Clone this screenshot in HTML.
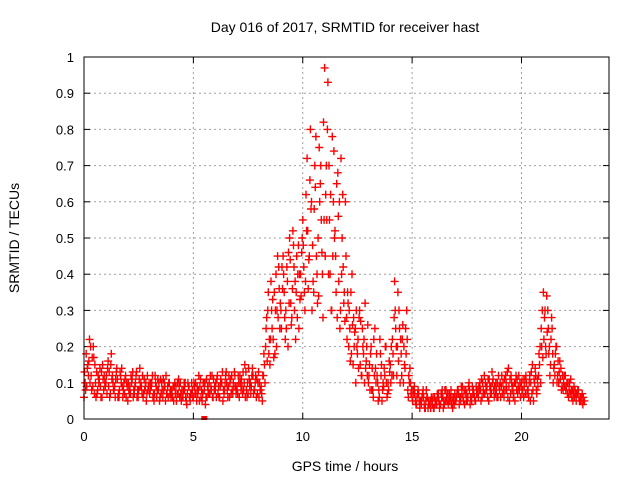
<!DOCTYPE html>
<html><head><meta charset="utf-8"><style>
body{margin:0;background:#fff}
svg{display:block;font-family:"Liberation Sans",sans-serif}
</style></head><body>
<svg id="chart" width="640" height="480" viewBox="0 0 640 480">
<text x="345" y="32" font-size="14" text-anchor="middle">Day 016 of 2017, SRMTID for receiver hast</text>
<text transform="translate(19,238) rotate(-90)" font-size="14" text-anchor="middle">SRMTID / TECUs</text>
<text x="345" y="471" font-size="14" text-anchor="middle">GPS time / hours</text>
<g id="grid"></g><g id="ticks"></g><g id="marks"></g>
<rect x="84" y="57" width="525" height="362" fill="none" stroke="#000" stroke-width="1"/>
</svg>
<script>
const xTicks=[0,5,10,15,20];
const yTicks=[0,0.1,0.2,0.3,0.4,0.5,0.6,0.7,0.8,0.9,1];
const yTickLabels=["0","0.1","0.2","0.3","0.4","0.5","0.6","0.7","0.8","0.9","1"];
const seriesA=[0.06,0.18,0.12,0.2,0.09,0.15,0.07,0.11,0.13,0.08,
0.1,0.16,0.07,0.12,0.09,0.14,0.06,0.1,0.08,0.12,
0.05,0.09,0.11,0.07,0.13,0.08,0.1,0.06,0.09,0.12,
0.07,0.1,0.05,0.09,0.08,0.11,0.06,0.09,0.07,0.1,
0.08,0.05,0.09,0.07,0.1,0.06,0.08,0.04,0.09,0.07,
0.06,0.1,0.07,0.09,0.05,0.08,0.11,0.07,0.09,0.06,
0.08,0.12,0.06,0.1,0.07,0.13,0.09,0.11,0.07,0.12,
0.09,0.06,0.11,0.08,0.13,0.07,0.1,0.14,0.08,0.11,
0.06,0.09,0.12,0.2,0.3,0.15,0.25,0.35,0.2,0.42,
0.3,0.45,0.22,0.38,0.5,0.28,0.42,0.35,0.48,0.4,
0.55,0.3,0.72,0.45,0.6,0.35,0.78,0.5,0.65,0.4,
0.97,0.55,0.7,0.3,0.6,0.45,0.68,0.25,0.5,0.35,
0.28,0.2,0.35,0.15,0.25,0.18,0.3,0.12,0.22,0.16,
0.1,0.18,0.08,0.25,0.12,0.06,0.15,0.09,0.2,0.1,
0.15,0.22,0.38,0.12,0.3,0.18,0.1,0.25,0.08,0.14,
0.06,0.09,0.04,0.07,0.05,0.08,0.03,0.06,0.04,0.05,
0.03,0.05,0.07,0.04,0.06,0.08,0.05,0.07,0.04,0.06,
0.05,0.08,0.06,0.09,0.04,0.07,0.1,0.06,0.08,0.05,
0.07,0.1,0.06,0.12,0.08,0.05,0.09,0.11,0.07,0.1,
0.08,0.12,0.06,0.1,0.14,0.07,0.09,0.05,0.11,0.08,
0.1,0.06,0.12,0.08,0.05,0.15,0.1,0.07,0.18,0.25,
0.35,0.2,0.3,0.12,0.25,0.15,0.2,0.1,0.14,0.08,
0.12,0.07,0.1,0.06,0.09,0.05,0.08,0.06,0.04];
const seriesB=[0.1,0.14,0.22,0.08,0.17,0.06,0.12,0.09,0.15,0.1,
0.07,0.13,0.18,0.08,0.11,0.06,0.13,0.09,0.07,0.1,
0.08,0.12,0.06,0.1,0.08,0.14,0.07,0.11,0.05,0.09,
0.1,0.06,0.12,0.08,0.05,0.1,0.08,0.12,0.06,0.08,
0.06,0.1,0.07,0.09,0.05,0.08,0.06,0.1,0.05,0.08,
0.09,0.05,0.12,0.06,0.1,0.04,0.09,0.07,0.12,0.08,
0.06,0.09,0.11,0.05,0.1,0.08,0.06,0.12,0.09,0.07,
0.12,0.1,0.07,0.15,0.06,0.11,0.09,0.07,0.12,0.1,
0.08,0.05,0.15,0.28,0.18,0.38,0.22,0.3,0.45,0.25,
0.42,0.35,0.25,0.46,0.32,0.52,0.38,0.28,0.4,0.46,
0.42,0.62,0.36,0.8,0.48,0.7,0.4,0.75,0.55,0.82,
0.62,0.93,0.4,0.78,0.5,0.65,0.38,0.72,0.42,0.6,
0.35,0.25,0.4,0.2,0.3,0.14,0.27,0.2,0.32,0.12,
0.15,0.08,0.22,0.1,0.05,0.18,0.08,0.12,0.06,0.16,
0.2,0.12,0.25,0.35,0.1,0.22,0.15,0.3,0.12,0.07,
0.08,0.05,0.07,0.03,0.06,0.04,0.08,0.05,0.03,0.06,
0.04,0.07,0.03,0.06,0.05,0.08,0.04,0.06,0.03,0.07,
0.07,0.04,0.09,0.05,0.08,0.06,0.04,0.09,0.06,0.07,
0.09,0.05,0.08,0.1,0.06,0.09,0.13,0.06,0.08,0.12,
0.06,0.1,0.08,0.13,0.05,0.1,0.07,0.12,0.09,0.06,
0.08,0.11,0.07,0.1,0.13,0.05,0.12,0.09,0.2,0.3,
0.28,0.34,0.18,0.22,0.1,0.18,0.12,0.16,0.09,0.12,
0.09,0.06,0.11,0.05,0.08,0.07,0.05,0.06,0.05];
const seriesC=[0.13,0.09,0.16,0.12,0.2,0.1,0.08,0.14,0.06,0.12,
0.12,0.09,0.15,0.1,0.06,0.11,0.08,0.14,0.1,0.06,
0.1,0.07,0.13,0.09,0.06,0.11,0.09,0.07,0.1,0.08,
0.08,0.12,0.07,0.06,0.1,0.07,0.11,0.05,0.09,0.07,
0.07,0.09,0.05,0.11,0.07,0.06,0.1,0.07,0.06,0.1,
0.1,0.07,0.08,0.11,0.07,0.1,0.06,0.1,0.08,0.11,
0.1,0.07,0.09,0.13,0.08,0.1,0.12,0.07,0.1,0.09,
0.07,0.12,0.09,0.1,0.08,0.14,0.07,0.12,0.1,0.07,
0.1,0.07,0.18,0.25,0.35,0.22,0.33,0.18,0.3,0.36,
0.25,0.4,0.3,0.2,0.44,0.36,0.3,0.45,0.25,0.34,
0.48,0.38,0.52,0.66,0.3,0.58,0.45,0.34,0.7,0.28,
0.45,0.8,0.55,0.3,0.74,0.35,0.56,0.3,0.62,0.27,
0.22,0.3,0.18,0.28,0.1,0.22,0.15,0.25,0.1,0.2,
0.12,0.2,0.06,0.14,0.1,0.22,0.05,0.14,0.1,0.08,
0.1,0.18,0.3,0.2,0.25,0.12,0.2,0.18,0.06,0.1,
0.05,0.07,0.06,0.05,0.04,0.06,0.05,0.03,0.05,0.04,
0.06,0.04,0.05,0.07,0.03,0.05,0.07,0.05,0.06,0.04,
0.06,0.07,0.05,0.06,0.07,0.05,0.08,0.05,0.07,0.09,
0.06,0.08,0.1,0.07,0.09,0.11,0.07,0.08,0.1,0.06,
0.1,0.07,0.11,0.08,0.09,0.12,0.06,0.1,0.07,0.1,
0.07,0.09,0.1,0.06,0.1,0.08,0.14,0.11,0.15,0.2,
0.22,0.18,0.25,0.15,0.18,0.12,0.1,0.13,0.08,0.1,
0.08,0.1,0.07,0.08,0.06,0.07,0.06,0.05,0.06];
const seriesD=[0.08,0.15,0.1,0.17,0.07,0.13,0.1,0.06,0.11,0.09,
0.14,0.06,0.11,0.08,0.13,0.07,0.12,0.06,0.11,0.09,
0.07,0.1,0.08,0.12,0.06,0.09,0.12,0.08,0.07,0.1,
0.09,0.07,0.1,0.11,0.06,0.08,0.1,0.07,0.1,0.06,
0.09,0.07,0.1,0.06,0.08,0.1,0.05,0.09,0.07,0.06,
0.07,0.09,0.05,0.08,0.1,0.06,0.08,0.12,0.06,0.09,
0.11,0.06,0.1,0.08,0.12,0.06,0.1,0.08,0.13,0.08,
0.1,0.08,0.13,0.06,0.1,0.09,0.12,0.08,0.06,0.13,
0.08,0.12,0.1,0.16,0.22,0.3,0.17,0.4,0.28,0.32,
0.36,0.28,0.42,0.32,0.26,0.48,0.22,0.4,0.33,0.5,
0.35,0.52,0.44,0.58,0.38,0.64,0.32,0.6,0.46,0.55,
0.7,0.4,0.62,0.45,0.52,0.28,0.6,0.4,0.32,0.45,
0.32,0.16,0.26,0.24,0.2,0.28,0.12,0.18,0.14,0.26,
0.08,0.14,0.12,0.18,0.08,0.12,0.1,0.2,0.07,0.13,
0.12,0.28,0.2,0.16,0.22,0.26,0.14,0.22,0.1,0.08,
0.07,0.04,0.08,0.05,0.07,0.03,0.06,0.04,0.06,0.03,
0.05,0.06,0.04,0.08,0.04,0.06,0.05,0.08,0.05,0.05,
0.08,0.06,0.07,0.08,0.05,0.09,0.06,0.07,0.05,0.08,
0.08,0.11,0.07,0.09,0.11,0.07,0.1,0.09,0.06,0.09,
0.09,0.08,0.12,0.06,0.11,0.08,0.1,0.08,0.12,0.09,
0.11,0.07,0.08,0.12,0.07,0.11,0.08,0.12,0.1,0.17,
0.3,0.24,0.2,0.28,0.14,0.2,0.16,0.11,0.12,0.09,
0.1,0.08,0.08,0.07,0.07,0.08,0.05,0.07,0.05];
const seriesOffsets=[0,0.05,0.025,0.075];
const NS="http://www.w3.org/2000/svg";
const X0=84,X1=609,Y0=419,Y1=57,XMAX=24;
function xs(t){return X0+(X1-X0)*t/XMAX;}
function ys(v){return Y0-(Y0-Y1)*v;}
function mk(tag,attrs,parent){const e=document.createElementNS(NS,tag);for(const k in attrs)e.setAttribute(k,attrs[k]);parent.appendChild(e);return e;}
const grid=document.getElementById('grid'),ticks=document.getElementById('ticks'),marks=document.getElementById('marks');
yTicks.forEach((v,i)=>{
  const y=ys(v);
  if(i>0&&i<yTicks.length-1){const g=mk('line',{x1:X0,x2:X1,y1:y,y2:y,stroke:'#a0a0a0','stroke-dasharray':'2,3'},grid);
  
  }
  mk('line',{x1:X0,x2:X0+6,y1:y,y2:y,stroke:'#000'},ticks);
  mk('line',{x1:X1,x2:X1-6,y1:y,y2:y,stroke:'#000'},ticks);
  const t=mk('text',{x:X0-10,y:y+5,'font-size':13,'text-anchor':'end'},ticks);
  t.textContent=yTickLabels[i];
  
  
});
xTicks.forEach((h,i)=>{
  const x=xs(h);
  if(i>0){const g=mk('line',{x1:x,x2:x,y1:Y0,y2:Y1,stroke:'#a0a0a0','stroke-dasharray':'2,3'},grid);
  
  }
  mk('line',{x1:x,x2:x,y1:Y0,y2:Y0-6,stroke:'#000'},ticks);
  mk('line',{x1:x,x2:x,y1:Y1,y2:Y1+6,stroke:'#000'},ticks);
  const t=mk('text',{x:x,y:Y0+22,'font-size':13,'text-anchor':'middle'},ticks);
  t.textContent=String(h);
  
  
});
let d='';
[seriesA,seriesB,seriesC,seriesD].forEach((s,si)=>{
  s.forEach((v,i)=>{
    const x=xs(i*0.1+seriesOffsets[si]),y=ys(v);
    d+=`M${(x-4).toFixed(1)} ${y.toFixed(1)}h8M${x.toFixed(1)} ${(y-4).toFixed(1)}v8`;
  });
});
const p=mk('path',{d:d,stroke:'#ff0000','stroke-width':1.4,fill:'none'},marks);


const sq=mk('rect',{x:xs(5.5)-3,y:Y0-3,width:6,height:4,fill:'#ff0000'},marks);


</script>
</body></html>
